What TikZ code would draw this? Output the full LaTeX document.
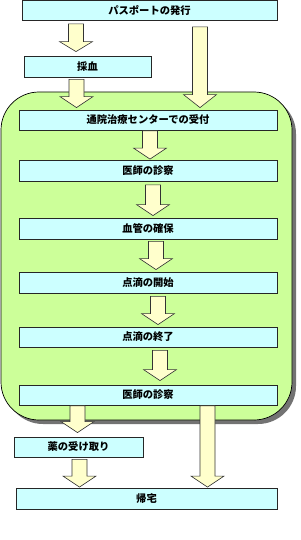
\documentclass[tikz,border=0pt]{standalone}
\usepackage{fontspec}
\newfontfamily\jp{Noto Sans CJK JP}
\usetikzlibrary{calc}
\definecolor{boxfill}{RGB}{204,255,255}
\definecolor{grnfill}{RGB}{204,255,153}
\definecolor{arrfill}{RGB}{255,255,204}
\newcommand\barr[6]{%
  \draw[barrow] let \p1=(#2.south), \p2=(#3.north) in
  ({#1*1pt-7.5pt},{\y1-#4pt}) -- ({#1*1pt+7.5pt},{\y1-#4pt}) --
  ({#1*1pt+7.5pt},{\y2+#5pt+#6pt}) -- ({#1*1pt+16.5pt},{\y2+#5pt+#6pt}) --
  ({#1*1pt},{\y2+#5pt}) -- ({#1*1pt-16.5pt},{\y2+#5pt+#6pt}) --
  ({#1*1pt-7.5pt},{\y2+#5pt+#6pt}) -- cycle;}
\tikzset{
  stepbox/.style={draw=black!85, line width=0.8pt, fill=boxfill, inner sep=0pt,
    font=\jp\bfseries\fontsize{10.3}{12}\selectfont, anchor=center},
  barrow/.style={draw=black!80, line width=0.6pt, fill=arrfill, line join=miter},
}
\begin{document}
\begin{tikzpicture}[x=1pt,y=-1pt]
\useasboundingbox (0,0) rectangle (300,540);
% green panel with shadow
\path[fill=black!55, rounded corners=38pt] (5,96) rectangle (296,424);
\path[fill=grnfill, draw=black, line width=0.7pt, rounded corners=38pt] (1,92) rectangle (292,420);
% boxes
\node[stepbox, minimum width=255pt, minimum height=20pt] (pass) at (149.5,10.5) {パスポートの発行};
\node[stepbox, minimum width=127pt, minimum height=21pt] (blood) at (87.5,66.5) {採血};
\node[stepbox, minimum width=258pt, minimum height=20pt] (recept) at (148,120) {通院治療センターでの受付};
\node[stepbox, minimum width=258pt, minimum height=21pt] (exam1) at (148,171) {医師の診察};
\node[stepbox, minimum width=258pt, minimum height=21pt] (vein) at (148,228.5) {血管の確保};
\node[stepbox, minimum width=258pt, minimum height=21pt] (dripA) at (148,282.5) {点滴の開始};
\node[stepbox, minimum width=258pt, minimum height=20pt] (dripB) at (148,337) {点滴の終了};
\node[stepbox, minimum width=258pt, minimum height=20pt] (exam2) at (148,395) {医師の診察};
\node[stepbox, minimum width=129pt, minimum height=20pt] (med) at (78.5,447) {薬の受け取り};
\node[stepbox, minimum width=261pt, minimum height=21pt] (home) at (146.5,498.5) {帰宅};
% arrows
\barr{76}{pass}{blood}{3}{4}{10}
\barr{76.5}{blood}{recept}{2}{2}{11}
\barr{200}{pass}{recept}{6}{2}{13}
\barr{150}{recept}{exam1}{0.5}{1}{11}
\barr{153}{exam1}{vein}{3}{2}{11}
\barr{156}{vein}{dripA}{2}{2}{11}
\barr{158}{dripA}{dripB}{3}{2}{11}
\barr{160}{dripB}{exam2}{3}{4}{11}
\barr{77.5}{exam2}{med}{0.5}{4}{11}
\barr{79.5}{med}{home}{2}{0.5}{11}
\barr{207.5}{exam2}{home}{0.5}{0.5}{11}
\end{tikzpicture}
\end{document}
